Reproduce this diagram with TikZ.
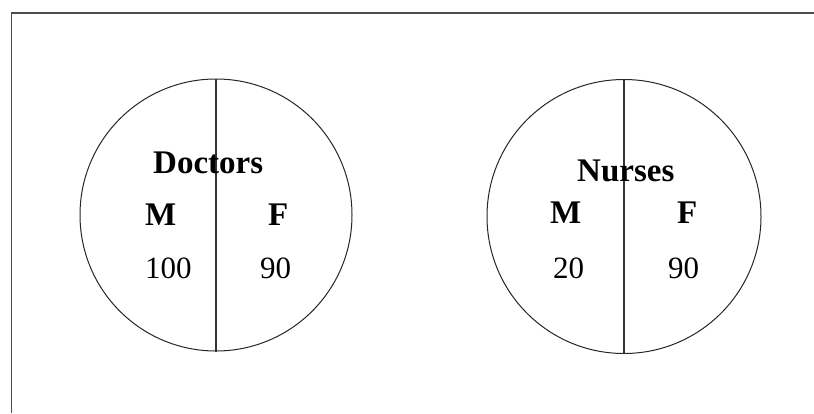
\documentclass[tikz,border=0pt]{standalone}
\usepackage{fontspec}
\setmainfont{Liberation Serif}
\begin{document}
\begin{tikzpicture}[x=1pt,y=-1pt,
  lbl/.style={inner sep=0pt,anchor=base west,font=\fontsize{33}{33}\selectfont\bfseries},
  num/.style={inner sep=0pt,anchor=base west,font=\fontsize{31}{31}\selectfont},
  ring/.style={draw=black!85,line width=1pt},
  divider/.style={draw=black!80,line width=1.3pt},
  frame/.style={draw=black!70,line width=1.6pt}]
\useasboundingbox (0,0) rectangle (814,413);
\coordinate (tl) at (11.5,13);
\coordinate (tr) at (814,13);
\coordinate (bl) at (11.5,413);
\draw[frame] (bl) -- (tl) -- (tr);
% Doctors
\node[ring,circle,minimum size=272pt,inner sep=0pt] (c1) at (216,215) {};
\draw[divider] (c1.north) -- (c1.south);
\node[lbl] (doc) at (153,173) {Doctors};
\node[lbl] (dm) at (145,225) {M};
\node[lbl] (df) at (268,225) {F};
\node[num] (dmn) at (145,278) {100};
\node[num] (dfn) at (260,278) {90};
% Nurses
\node[ring,circle,minimum size=274pt,inner sep=0pt] (c2) at (624,216.5) {};
\draw[divider] (c2.north) -- (c2.south);
\node[lbl] (nur) at (577,181) {Nurses};
\node[lbl] (nm) at (550,223) {M};
\node[lbl] (nf) at (677,223) {F};
\node[num] (nmn) at (553,278) {20};
\node[num] (nfn) at (668,278) {90};
\end{tikzpicture}
\end{document}
